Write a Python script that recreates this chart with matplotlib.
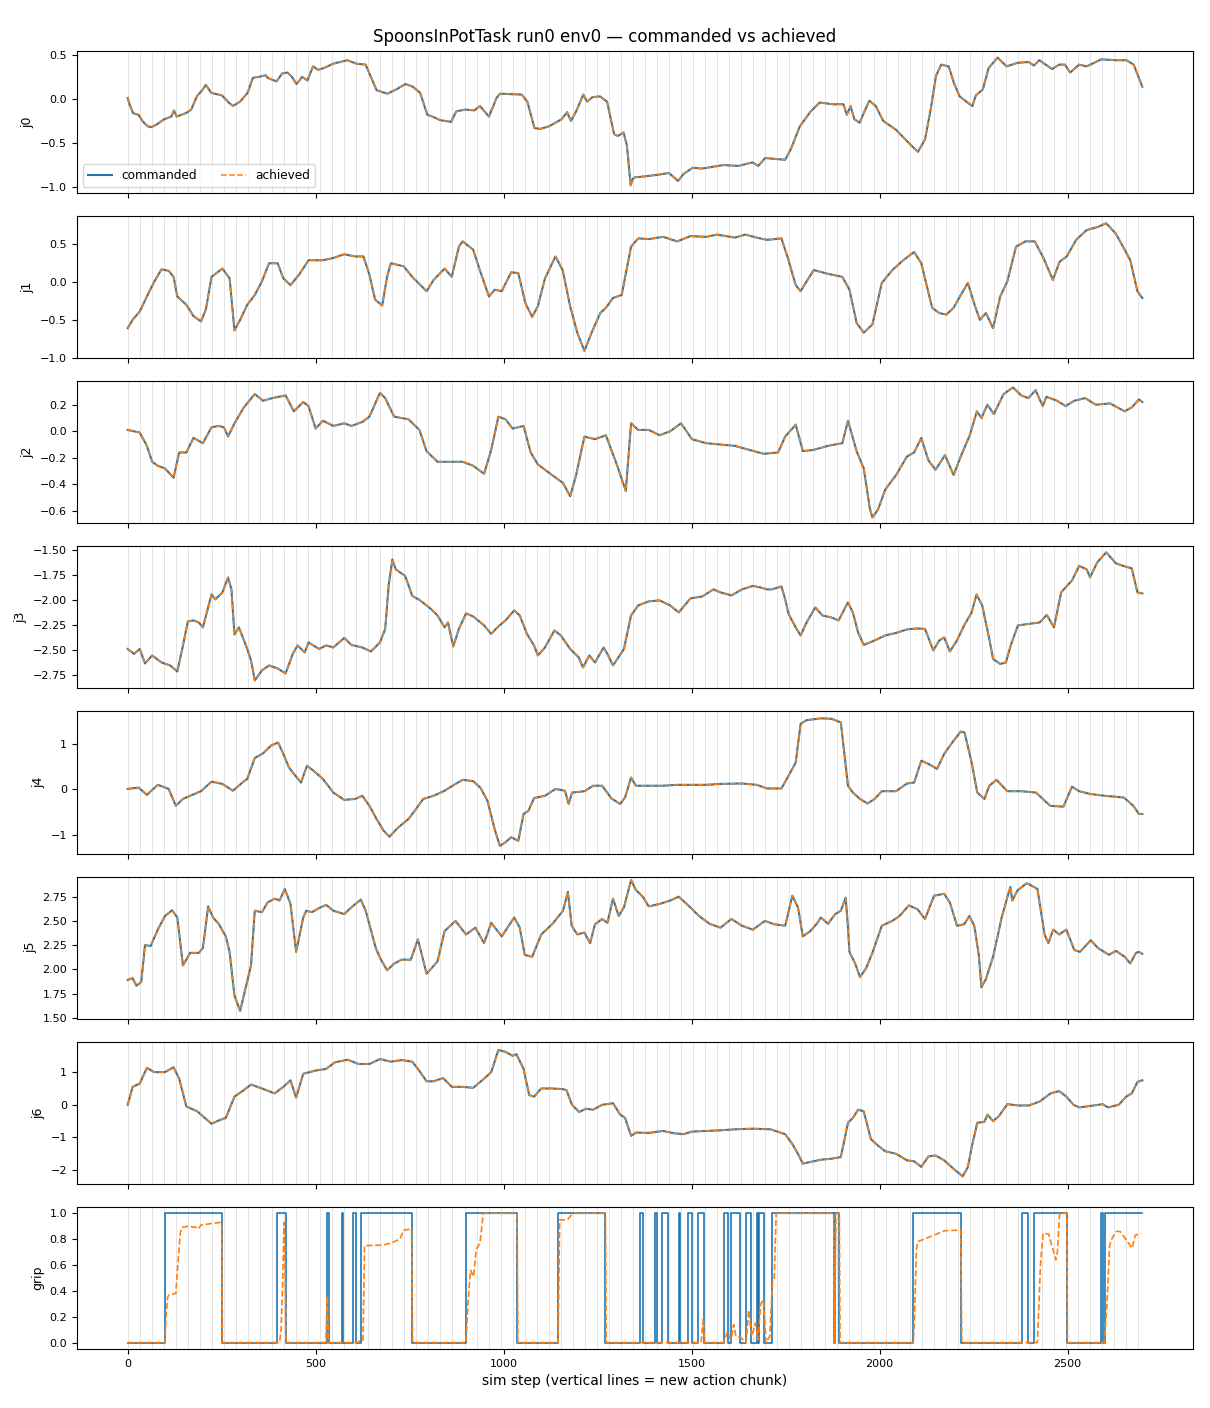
import numpy as np
import matplotlib
matplotlib.use("Agg")
import matplotlib.pyplot as plt

TITLE = "SpoonsInPotTask run0 env0 \u2014 commanded vs achieved"
XLABEL = "sim step (vertical lines = new action chunk)"
CHUNK = 32
N_STEPS = 2700

# joint traces (step, value)
J0_STEPS = [0, 5, 14, 29, 39, 53, 63, 77, 97, 116, 123, 130, 155, 169, 184, 198, 208, 222, 251, 270,
            280, 299, 319, 333, 348, 367, 372, 396, 411, 425, 437, 449, 464, 478, 493, 507, 527, 546, 584, 609,
            633, 647, 662, 691, 715, 739, 758, 778, 797, 811, 831, 860, 874, 898, 922, 937, 961, 981, 990, 1048,
            1063, 1082, 1097, 1121, 1154, 1169, 1179, 1193, 1208, 1212, 1222, 1236, 1256, 1275, 1294, 1304, 1319, 1328, 1338, 1343,
            1348, 1372, 1411, 1440, 1464, 1479, 1503, 1527, 1556, 1585, 1624, 1662, 1677, 1696, 1720, 1749, 1764, 1788, 1817, 1841,
            1875, 1904, 1913, 1923, 1933, 1947, 1962, 1973, 1990, 2010, 2044, 2078, 2102, 2121, 2136, 2150, 2164, 2184, 2198, 2213,
            2237, 2247, 2256, 2275, 2290, 2314, 2338, 2367, 2396, 2411, 2425, 2459, 2478, 2493, 2507, 2531, 2551, 2590, 2628, 2657,
            2676, 2699]
J0_VALS = [0.01, -0.06, -0.16, -0.18, -0.25, -0.31, -0.32, -0.29, -0.23, -0.20,
           -0.13, -0.20, -0.16, -0.12, 0.03, 0.10, 0.16, 0.07, 0.04, -0.045,
           -0.08, -0.03, 0.07, 0.24, 0.25, 0.27, 0.24, 0.20, 0.29, 0.30,
           0.25, 0.17, 0.25, 0.21, 0.37, 0.33, 0.36, 0.40, 0.44, 0.40,
           0.39, 0.25, 0.10, 0.06, 0.11, 0.17, 0.14, 0.07, -0.18, -0.20,
           -0.24, -0.26, -0.14, -0.12, -0.13, -0.08, -0.20, 0.01, 0.06, 0.05,
           -0.03, -0.33, -0.34, -0.31, -0.23, -0.15, -0.25, -0.14, 0.01, 0.05,
           -0.03, 0.02, 0.03, -0.03, -0.40, -0.42, -0.38, -0.53, -0.98, -0.91,
           -0.89, -0.88, -0.86, -0.84, -0.93, -0.85, -0.78, -0.79, -0.77, -0.75,
           -0.76, -0.72, -0.76, -0.67, -0.68, -0.69, -0.57, -0.31, -0.14, -0.04,
           -0.06, -0.06, -0.18, -0.08, -0.23, -0.27, -0.12, -0.02, -0.08, -0.25,
           -0.35, -0.50, -0.60, -0.46, -0.12, 0.26, 0.39, 0.37, 0.18, 0.03,
           -0.05, -0.08, 0.04, 0.11, 0.35, 0.47, 0.37, 0.41, 0.42, 0.38,
           0.44, 0.34, 0.39, 0.39, 0.30, 0.39, 0.37, 0.45, 0.44, 0.44,
           0.39, 0.14]

J1_STEPS = [0, 13, 32, 51, 71, 90, 109, 122, 132, 156, 175, 195, 208, 223, 252, 271, 284, 299, 318, 338,
            357, 376, 399, 414, 433, 456, 481, 519, 547, 576, 605, 627, 643, 658, 677, 690, 700, 734, 757, 795,
            814, 843, 862, 881, 891, 919, 938, 961, 976, 995, 1020, 1039, 1058, 1076, 1091, 1110, 1138, 1157, 1177, 1196,
            1215, 1234, 1257, 1272, 1291, 1314, 1339, 1358, 1386, 1424, 1462, 1497, 1539, 1568, 1615, 1643, 1673, 1701, 1739, 1758,
            1777, 1790, 1806, 1825, 1863, 1901, 1920, 1939, 1958, 1981, 2006, 2034, 2063, 2092, 2111, 2140, 2159, 2178, 2197, 2216,
            2235, 2254, 2267, 2283, 2302, 2321, 2340, 2363, 2388, 2413, 2436, 2461, 2479, 2498, 2523, 2551, 2580, 2603, 2629, 2652,
            2667, 2686, 2699]
J1_VALS = [-0.61, -0.50, -0.39, -0.19, 0.01, 0.17, 0.15, 0.07, -0.19, -0.30,
           -0.45, -0.52, -0.36, 0.07, 0.18, 0.05, -0.64, -0.50, -0.30, -0.17,
           0.01, 0.25, 0.25, 0.05, -0.04, 0.10, 0.29, 0.29, 0.32, 0.37,
           0.34, 0.34, 0.10, -0.23, -0.31, 0.07, 0.25, 0.21, 0.07, -0.12,
           0.03, 0.18, 0.07, 0.47, 0.54, 0.43, 0.14, -0.19, -0.10, -0.12,
           0.13, 0.12, -0.28, -0.46, -0.32, 0.05, 0.34, 0.16, -0.32, -0.67,
           -0.91, -0.67, -0.41, -0.34, -0.21, -0.17, 0.47, 0.58, 0.57, 0.60,
           0.54, 0.61, 0.60, 0.63, 0.59, 0.63, 0.59, 0.56, 0.58, 0.29,
           -0.04, -0.12, 0.01, 0.16, 0.11, 0.07, -0.10, -0.54, -0.67, -0.56,
           -0.01, 0.16, 0.29, 0.40, 0.25, -0.34, -0.41, -0.43, -0.34, -0.17,
           -0.01, -0.32, -0.50, -0.41, -0.61, -0.19, 0.01, 0.47, 0.54, 0.54,
           0.32, 0.03, 0.27, 0.34, 0.56, 0.69, 0.73, 0.78, 0.64, 0.43,
           0.29, -0.12, -0.21]

J2_STEPS = [0, 32, 51, 65, 80, 99, 122, 137, 156, 175, 200, 223, 242, 256, 267, 284, 309, 338, 360, 385,
            420, 442, 467, 481, 500, 519, 547, 576, 595, 624, 643, 671, 685, 709, 747, 776, 795, 824, 853, 891,
            919, 948, 967, 986, 1005, 1024, 1053, 1072, 1091, 1129, 1158, 1177, 1192, 1215, 1243, 1272, 1301, 1325, 1339, 1358,
            1386, 1415, 1443, 1472, 1501, 1539, 1577, 1615, 1653, 1692, 1730, 1749, 1777, 1796, 1825, 1863, 1901, 1916, 1939, 1958,
            1974, 1981, 1996, 2015, 2044, 2073, 2092, 2111, 2130, 2149, 2174, 2197, 2216, 2240, 2259, 2271, 2287, 2304, 2330, 2355,
            2377, 2396, 2415, 2434, 2444, 2472, 2495, 2518, 2547, 2575, 2613, 2652, 2671, 2690, 2699]
J2_VALS = [0.01, -0.01, -0.11, -0.23, -0.26, -0.28, -0.35, -0.16, -0.16, -0.05,
           -0.09, 0.03, 0.04, 0.03, -0.04, 0.06, 0.18, 0.28, 0.23, 0.25,
           0.27, 0.15, 0.22, 0.19, 0.02, 0.08, 0.04, 0.06, 0.04, 0.07,
           0.11, 0.29, 0.25, 0.11, 0.09, 0.01, -0.15, -0.23, -0.23, -0.23,
           -0.26, -0.32, -0.14, 0.11, 0.09, 0.02, 0.04, -0.16, -0.25, -0.33,
           -0.39, -0.49, -0.34, -0.04, -0.06, -0.03, -0.25, -0.45, 0.06, 0.01,
           0.01, -0.03, 0.00, 0.06, -0.06, -0.09, -0.10, -0.11, -0.14, -0.17,
           -0.16, -0.04, 0.05, -0.15, -0.14, -0.11, -0.09, 0.08, -0.15, -0.28,
           -0.58, -0.65, -0.59, -0.44, -0.33, -0.19, -0.16, -0.05, -0.22, -0.29,
           -0.18, -0.33, -0.19, -0.03, 0.15, 0.10, 0.20, 0.13, 0.28, 0.33,
           0.27, 0.25, 0.31, 0.19, 0.26, 0.23, 0.19, 0.23, 0.25, 0.20,
           0.21, 0.15, 0.18, 0.24, 0.22]

J3_STEPS = [0, 17, 32, 46, 65, 90, 113, 132, 147, 160, 175, 189, 200, 223, 233, 252, 267, 276, 284, 296,
            318, 328, 338, 357, 376, 399, 420, 439, 452, 471, 481, 509, 528, 547, 576, 595, 624, 647, 671, 685,
            694, 704, 713, 738, 757, 776, 795, 808, 824, 843, 852, 866, 881, 900, 919, 948, 967, 986, 1005, 1028,
            1043, 1062, 1081, 1091, 1110, 1135, 1152, 1177, 1200, 1211, 1228, 1243, 1266, 1276, 1291, 1320, 1339, 1358, 1386, 1415,
            1443, 1466, 1497, 1529, 1558, 1577, 1606, 1634, 1663, 1682, 1701, 1714, 1739, 1749, 1758, 1777, 1790, 1806, 1829, 1848,
            1872, 1891, 1916, 1929, 1943, 1958, 1987, 2015, 2044, 2073, 2101, 2121, 2143, 2159, 2172, 2187, 2206, 2225, 2245, 2258,
            2273, 2292, 2302, 2321, 2336, 2349, 2368, 2397, 2426, 2445, 2464, 2483, 2512, 2531, 2551, 2560, 2579, 2603, 2629, 2652,
            2671, 2686, 2699]
J3_VALS = [-2.485, -2.535, -2.485, -2.63, -2.55, -2.62, -2.65, -2.71, -2.45, -2.21,
           -2.20, -2.22, -2.27, -1.94, -1.99, -1.92, -1.77, -1.89, -2.34, -2.27,
           -2.485, -2.60, -2.80, -2.70, -2.65, -2.68, -2.73, -2.535, -2.45, -2.52,
           -2.42, -2.485, -2.45, -2.47, -2.375, -2.445, -2.47, -2.51, -2.42, -2.285,
           -1.855, -1.59, -1.69, -1.755, -1.955, -1.995, -2.05, -2.09, -2.15, -2.27,
           -2.22, -2.46, -2.285, -2.13, -2.16, -2.25, -2.335, -2.26, -2.20, -2.10,
           -2.15, -2.335, -2.45, -2.55, -2.47, -2.30, -2.35, -2.485, -2.57, -2.67,
           -2.55, -2.62, -2.47, -2.535, -2.65, -2.485, -2.15, -2.05, -2.01, -2.00,
           -2.05, -2.12, -1.98, -1.96, -1.89, -1.92, -1.95, -1.89, -1.855, -1.87,
           -1.89, -1.89, -1.86, -1.99, -2.135, -2.27, -2.35, -2.22, -2.07, -2.15,
           -2.17, -2.20, -2.02, -2.12, -2.32, -2.445, -2.40, -2.35, -2.325, -2.29,
           -2.28, -2.285, -2.50, -2.40, -2.37, -2.51, -2.40, -2.25, -2.12, -1.94,
           -2.05, -2.385, -2.585, -2.635, -2.62, -2.45, -2.25, -2.235, -2.22, -2.145,
           -2.27, -1.92, -1.80, -1.655, -1.69, -1.77, -1.62, -1.52, -1.63, -1.66,
           -1.68, -1.92, -1.93]

J4_STEPS = [0, 29, 51, 80, 109, 128, 147, 166, 195, 223, 252, 280, 305, 318, 338, 360, 381, 400, 414, 429,
            442, 461, 477, 500, 519, 547, 576, 605, 624, 643, 662, 681, 696, 719, 747, 767, 786, 814, 843, 872,
            891, 919, 938, 957, 976, 990, 1005, 1020, 1039, 1053, 1066, 1081, 1110, 1138, 1163, 1173, 1182, 1215, 1238, 1262,
            1287, 1310, 1323, 1339, 1352, 1386, 1424, 1462, 1501, 1539, 1577, 1634, 1673, 1701, 1739, 1758, 1777, 1790, 1806, 1844,
            1872, 1897, 1916, 1929, 1948, 1968, 1987, 2006, 2044, 2073, 2092, 2111, 2130, 2153, 2172, 2197, 2216, 2226, 2245, 2260,
            2279, 2292, 2311, 2340, 2378, 2416, 2454, 2489, 2512, 2531, 2560, 2598, 2627, 2650, 2675, 2690, 2699]
J4_VALS = [0.01, 0.04, -0.12, 0.10, 0.01, -0.36, -0.21, -0.14, -0.04, 0.17,
           0.12, -0.03, 0.15, 0.23, 0.69, 0.79, 0.96, 1.03, 0.78, 0.48,
           0.34, 0.15, 0.52, 0.37, 0.23, -0.07, -0.23, -0.21, -0.14, -0.36,
           -0.65, -0.91, -1.04, -0.84, -0.65, -0.43, -0.21, -0.14, -0.03, 0.12,
           0.21, 0.18, 0.04, -0.25, -0.87, -1.24, -1.16, -1.05, -1.13, -0.54,
           -0.47, -0.19, -0.14, 0.01, -0.03, -0.32, -0.07, -0.04, 0.08, 0.08,
           -0.20, -0.32, -0.18, 0.26, 0.08, 0.08, 0.08, 0.10, 0.10, 0.10,
           0.12, 0.13, 0.10, 0.02, 0.02, 0.30, 0.59, 1.44, 1.52, 1.56,
           1.55, 1.47, 0.08, -0.07, -0.21, -0.31, -0.21, -0.04, -0.04, 0.13,
           0.15, 0.63, 0.56, 0.45, 0.78, 1.07, 1.27, 1.25, 0.59, -0.07,
           -0.21, 0.08, 0.21, -0.04, -0.04, -0.07, -0.36, -0.38, 0.06, -0.04,
           -0.10, -0.14, -0.16, -0.18, -0.36, -0.54, -0.54]

J5_STEPS = [0, 13, 23, 36, 46, 61, 80, 99, 118, 132, 147, 166, 189, 200, 214, 227, 242, 261, 271, 284,
            299, 315, 328, 338, 357, 372, 391, 404, 418, 433, 448, 467, 475, 490, 513, 528, 547, 576, 595, 620,
            633, 660, 671, 690, 709, 729, 753, 772, 795, 824, 843, 872, 900, 925, 948, 967, 995, 1028, 1043, 1056,
            1076, 1100, 1129, 1158, 1171, 1181, 1196, 1215, 1230, 1243, 1262, 1276, 1291, 1306, 1320, 1339, 1352, 1371, 1386, 1415,
            1443, 1466, 1491, 1520, 1548, 1577, 1606, 1634, 1663, 1695, 1720, 1749, 1768, 1783, 1796, 1816, 1835, 1844, 1863, 1882,
            1897, 1910, 1916, 1920, 1935, 1948, 1964, 1981, 2006, 2034, 2053, 2078, 2101, 2121, 2145, 2172, 2187, 2206, 2225, 2239,
            2252, 2264, 2271, 2283, 2302, 2325, 2340, 2348, 2353, 2367, 2392, 2420, 2439, 2449, 2462, 2478, 2497, 2518, 2533, 2562,
            2581, 2610, 2629, 2652, 2667, 2682, 2690, 2699]
J5_VALS = [1.89, 1.91, 1.83, 1.87, 2.25, 2.24, 2.41, 2.55, 2.61, 2.535,
           2.04, 2.17, 2.17, 2.22, 2.65, 2.535, 2.47, 2.34, 2.18, 1.73,
           1.57, 1.83, 2.04, 2.605, 2.59, 2.69, 2.73, 2.71, 2.83, 2.675,
           2.18, 2.535, 2.605, 2.59, 2.64, 2.665, 2.605, 2.57, 2.64, 2.72,
           2.605, 2.22, 2.12, 1.99, 2.06, 2.10, 2.10, 2.31, 1.955, 2.08,
           2.395, 2.50, 2.36, 2.43, 2.27, 2.48, 2.34, 2.535, 2.43, 2.15,
           2.13, 2.36, 2.465, 2.605, 2.80, 2.45, 2.36, 2.38, 2.27, 2.465,
           2.52, 2.48, 2.73, 2.55, 2.64, 2.92, 2.82, 2.745, 2.65, 2.675,
           2.71, 2.75, 2.66, 2.55, 2.47, 2.43, 2.52, 2.45, 2.41, 2.50,
           2.465, 2.45, 2.76, 2.64, 2.34, 2.395, 2.48, 2.535, 2.47, 2.57,
           2.605, 2.74, 2.43, 2.18, 2.06, 1.92, 2.01, 2.17, 2.45, 2.50,
           2.55, 2.66, 2.62, 2.52, 2.76, 2.78, 2.69, 2.45, 2.465, 2.55,
           2.45, 2.15, 1.815, 1.90, 2.13, 2.535, 2.745, 2.85, 2.71, 2.815,
           2.89, 2.83, 2.36, 2.27, 2.41, 2.36, 2.41, 2.20, 2.18, 2.30,
           2.22, 2.15, 2.19, 2.13, 2.06, 2.17, 2.18, 2.16]

J6_STEPS = [0, 13, 32, 51, 71, 99, 122, 137, 156, 185, 223, 242, 261, 284, 309, 328, 357, 391, 414, 433,
            448, 467, 500, 528, 551, 585, 614, 643, 671, 700, 729, 757, 772, 795, 814, 839, 862, 891, 919, 948,
            967, 986, 1005, 1024, 1034, 1053, 1068, 1081, 1100, 1129, 1158, 1167, 1182, 1201, 1219, 1238, 1262, 1291, 1310, 1323,
            1339, 1352, 1386, 1424, 1453, 1478, 1501, 1539, 1577, 1615, 1663, 1710, 1749, 1768, 1783, 1796, 1816, 1844, 1872, 1897,
            1916, 1929, 1943, 1958, 1977, 1996, 2015, 2044, 2073, 2092, 2111, 2130, 2149, 2172, 2197, 2221, 2235, 2245, 2260, 2279,
            2287, 2302, 2317, 2340, 2368, 2397, 2426, 2455, 2478, 2497, 2516, 2531, 2551, 2570, 2593, 2608, 2636, 2656, 2671, 2686,
            2699]
J6_VALS = [0.00, 0.55, 0.65, 1.13, 1.00, 1.00, 1.15, 0.80, -0.05, -0.20,
           -0.58, -0.48, -0.40, 0.25, 0.45, 0.62, 0.50, 0.35, 0.55, 0.75,
           0.22, 0.95, 1.05, 1.10, 1.30, 1.38, 1.25, 1.25, 1.40, 1.32,
           1.37, 1.32, 1.10, 0.72, 0.72, 0.82, 0.55, 0.55, 0.52, 0.80,
           1.00, 1.68, 1.62, 1.50, 1.55, 1.10, 0.30, 0.25, 0.50, 0.50,
           0.48, 0.45, 0.00, -0.22, -0.12, -0.15, 0.00, 0.05, -0.30, -0.40,
           -0.95, -0.85, -0.86, -0.80, -0.87, -0.90, -0.82, -0.80, -0.78, -0.75,
           -0.73, -0.75, -0.90, -1.20, -1.50, -1.80, -1.75, -1.68, -1.65, -1.60,
           -0.55, -0.40, -0.15, -0.20, -1.05, -1.25, -1.42, -1.50, -1.70, -1.73,
           -1.90, -1.58, -1.55, -1.70, -1.96, -2.19, -1.91, -1.30, -0.55, -0.52,
           -0.30, -0.50, -0.35, 0.02, -0.02, -0.02, 0.10, 0.35, 0.42, 0.25,
           0.00, -0.08, -0.05, -0.02, 0.02, -0.08, 0.00, 0.25, 0.35, 0.70,
           0.75]

# gripper: commanded is binary (switch points), achieved lags behind
GRIP_CMD_STEPS = [0, 100, 250, 396, 420, 529, 535, 570, 573, 600,
                  606, 620, 757, 900, 1036, 1145, 1271, 1363, 1372, 1404,
                  1407, 1421, 1437, 1467, 1470, 1491, 1500, 1516, 1533, 1585,
                  1597, 1606, 1628, 1644, 1659, 1673, 1677, 1679, 1693, 1713,
                  1878, 1882, 1893, 2088, 2218, 2380, 2396, 2411, 2498, 2588,
                  2594, 2599, 2699]
GRIP_CMD_VALS = [0, 1, 0, 1, 0, 1, 0, 1, 0, 1,
                 0, 1, 0, 1, 0, 1, 0, 1, 0, 1,
                 0, 1, 0, 1, 0, 1, 0, 1, 0, 1,
                 0, 1, 0, 1, 0, 1, 0, 1, 0, 1,
                 0, 1, 0, 1, 0, 1, 0, 1, 0, 1,
                 0, 1, 1]
GRIP_ACH_STEPS = [0, 99, 102, 106, 110, 128, 132, 140, 144, 160, 185, 188, 195, 220, 246, 250, 252,
                  404, 408, 412, 416, 419, 421, 527, 531, 534,
                  612, 618, 626, 630, 680, 700, 724, 734, 755, 758,
                  900, 905, 912, 920, 927, 937, 946, 1036, 1038,
                  1145, 1149, 1170, 1183, 1271, 1273,
                  1525, 1531, 1535, 1585, 1595, 1605, 1612, 1618, 1630, 1645, 1652, 1660, 1670, 1676,
                  1684, 1691, 1698, 1708, 1715, 1720, 1725, 1878, 1880, 1884, 1893, 1895,
                  2090, 2093, 2098, 2101, 2135, 2174, 2216, 2219,
                  2420, 2428, 2435, 2450, 2469, 2473, 2479, 2498, 2500,
                  2598, 2605, 2612, 2619, 2630, 2640, 2650, 2672, 2680, 2696]
GRIP_ACH_VALS = [0.0, 0.0, 0.2, 0.35, 0.37, 0.38, 0.55, 0.85, 0.89, 0.90, 0.89, 0.88, 0.91, 0.92, 0.93, 0.92, 0.0,
                 0.0, 0.1, 0.45, 0.93, 0.5, 0.0, 0.0, 0.36, 0.0,
                 0.0, 0.02, 0.02, 0.75, 0.755, 0.77, 0.80, 0.87, 0.88, 0.0,
                 0.0, 0.3, 0.56, 0.51, 0.72, 0.77, 1.0, 1.0, 0.0,
                 0.0, 0.95, 0.95, 1.0, 1.0, 0.0,
                 0.0, 0.18, 0.0, 0.0, 0.08, 0.02, 0.14, 0.05, 0.04, 0.0, 0.25, 0.05, 0.15, 0.02,
                 0.3, 0.33, 0.0, 0.05, 0.46, 0.5, 1.0, 1.0, 0.0, 1.0, 1.0, 0.0,
                 0.0, 0.2, 0.72, 0.78, 0.82, 0.866, 0.87, 0.0,
                 0.0, 0.6, 0.845, 0.84, 0.64, 0.7, 1.0, 1.0, 0.0,
                 0.0, 0.3, 0.75, 0.81, 0.86, 0.86, 0.82, 0.73, 0.83, 0.845]

JOINTS = [("j0", J0_STEPS, J0_VALS), ("j1", J1_STEPS, J1_VALS), ("j2", J2_STEPS, J2_VALS),
          ("j3", J3_STEPS, J3_VALS), ("j4", J4_STEPS, J4_VALS), ("j5", J5_STEPS, J5_VALS),
          ("j6", J6_STEPS, J6_VALS)]
YLIMS = [(-1.068, 0.545), (-1.008, 0.875), (-0.694, 0.377), (-2.88, -1.46),
         (-1.41, 1.71), (1.49, 2.957), (-2.42, 1.93), (-0.05, 1.05)]

fig, axes = plt.subplots(8, 1, figsize=(12.1, 14.08), dpi=100, sharex=True)
fig.subplots_adjust(left=0.0636, right=0.986, top=0.9638, bottom=0.0419, hspace=0.162)

chunk_starts = np.arange(0, N_STEPS, CHUNK)
for ax in axes:
    for s in chunk_starts:
        ax.axvline(s, color="gray", lw=0.5, alpha=0.3, zorder=0)

for ax, (name, steps, vals) in zip(axes[:7], JOINTS):
    ax.plot(steps, vals, color="C0", lw=1.5, label="commanded")
    ax.plot(steps, vals, color="C1", lw=1.1, ls="--", label="achieved")
    ax.set_ylabel(name, fontsize=9)

ag = axes[7]
ag.plot(GRIP_CMD_STEPS, GRIP_CMD_VALS, color="C0", lw=1.2, drawstyle="steps-post")
ag.plot(GRIP_ACH_STEPS, GRIP_ACH_VALS, color="C1", lw=1.2, ls="--")
ag.set_ylabel("grip", fontsize=9)
ag.set_xlabel(XLABEL, fontsize=10)

for ax, yl in zip(axes, YLIMS):
    ax.set_ylim(*yl)
    ax.tick_params(labelsize=8)
axes[-1].set_xlim(-135, 2834)
axes[-1].set_xticks([0, 500, 1000, 1500, 2000, 2500])

axes[0].legend(loc="lower left", ncol=2, fontsize=8.7)
fig.suptitle(TITLE, fontsize=12, y=0.974, va="center")
fig.savefig("out.png", dpi=100)
